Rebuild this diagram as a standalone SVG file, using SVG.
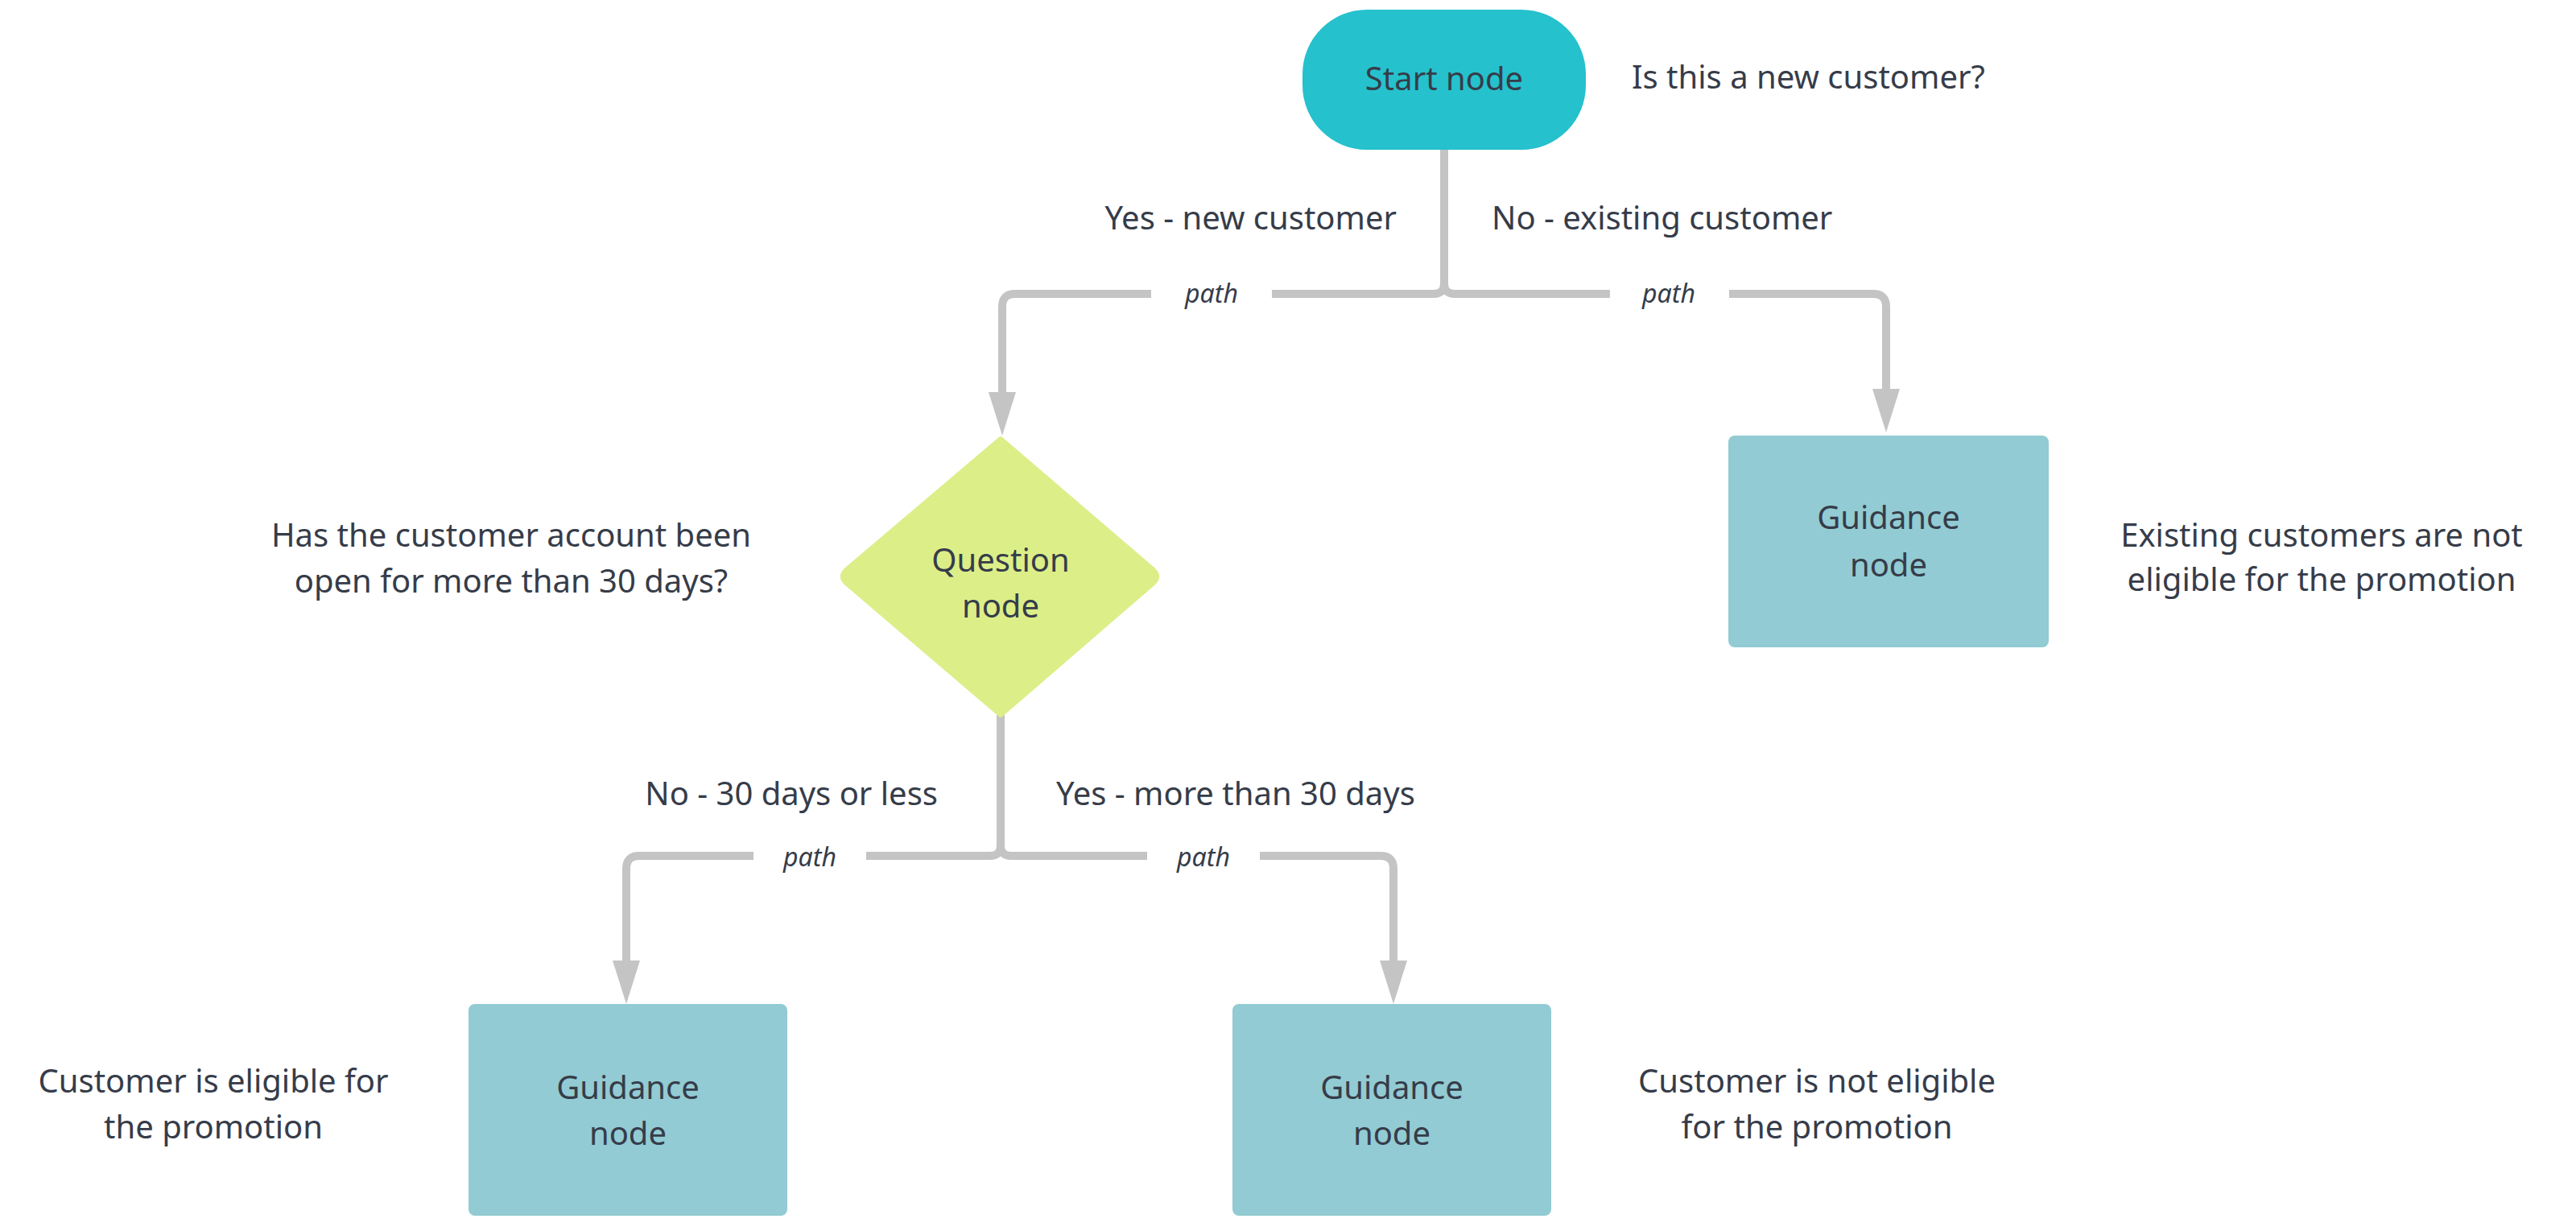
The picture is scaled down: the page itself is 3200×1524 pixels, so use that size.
<svg xmlns="http://www.w3.org/2000/svg" width="3200" height="1524" viewBox="0 0 3200 1524">
<style>
text{font-family:"Noto Sans","Liberation Sans",sans-serif;fill:#363c49;font-size:40px;text-anchor:middle}
.l{text-anchor:start}.r{text-anchor:end}
.p{font-style:italic;font-size:32px}
.c{fill:none;stroke:#c4c4c4;stroke-width:10}
.a{fill:#c4c4c4}
.g{fill:#92cbd3}
</style>
<rect width="3200" height="1524" fill="#fff"/>
<g id="connectors">
<path class="c" d="M1794 186V352Q1794 365 1781 365H1261Q1245 365 1245 381V490"/>
<path class="c" d="M1794 186V352Q1794 365 1807 365H2327Q2343 365 2343 381V486"/>
<polygon class="a" points="1228,487 1262,487 1245,541"/>
<polygon class="a" points="2326,483 2360,483 2343,537"/>
<path class="c" d="M1243 888V1050Q1243 1063 1230 1063H794Q778 1063 778 1079V1196"/>
<path class="c" d="M1243 888V1050Q1243 1063 1256 1063H1715Q1731 1063 1731 1079V1196"/>
<polygon class="a" points="761,1193 795,1193 778,1247"/>
<polygon class="a" points="1714,1193 1748,1193 1731,1247"/>
<rect x="1430" y="340" width="150" height="50" fill="#fff"/>
<rect x="2000" y="340" width="148" height="50" fill="#fff"/>
<rect x="936" y="1038" width="140" height="50" fill="#fff"/>
<rect x="1425" y="1038" width="140" height="50" fill="#fff"/>
<text class="p" x="1505" y="376">path</text>
<text class="p" x="2073" y="376">path</text>
<text class="p" x="1006" y="1076">path</text>
<text class="p" x="1495" y="1076">path</text>
<text class="r" x="1735" y="285">Yes - new customer</text>
<text class="l" x="1853" y="285">No - existing customer</text>
<text class="r" x="1165" y="1000">No - 30 days or less</text>
<text class="l" x="1312" y="1000">Yes - more than 30 days</text>
</g>
<g id="start">
<rect x="1618" y="12" width="352" height="174" rx="80" fill="#25c1cd"/>
<text x="1794" y="112">Start node</text>
<text class="l" x="2027" y="110">Is this a new customer?</text>
</g>
<g id="question">
<path d="M1243 545L1433 708Q1441 716 1433 724L1243 888L1051 724Q1043 716 1051 708Z" fill="#dcee88" stroke="#dcee88" stroke-linejoin="round" stroke-width="6"/>
<text x="1243" y="710">Question</text>
<text x="1243" y="767">node</text>
<text x="635" y="679">Has the customer account been</text>
<text x="635" y="736">open for more than 30 days?</text>
</g>
<g id="guidance1">
<rect class="g" x="2147" y="541" width="398" height="263" rx="8"/>
<text x="2346" y="657">Guidance</text>
<text x="2346" y="716">node</text>
<text x="2884" y="679">Existing customers are not</text>
<text x="2884" y="734">eligible for the promotion</text>
</g>
<g id="guidance2">
<rect class="g" x="582" y="1247" width="396" height="263" rx="8"/>
<text x="780" y="1365">Guidance</text>
<text x="780" y="1422">node</text>
<text x="265" y="1357">Customer is eligible for</text>
<text x="265" y="1414">the promotion</text>
</g>
<g id="guidance3">
<rect class="g" x="1531" y="1247" width="396" height="263" rx="8"/>
<text x="1729" y="1365">Guidance</text>
<text x="1729" y="1422">node</text>
<text x="2257" y="1357">Customer is not eligible</text>
<text x="2257" y="1414">for the promotion</text>
</g>
</svg>
